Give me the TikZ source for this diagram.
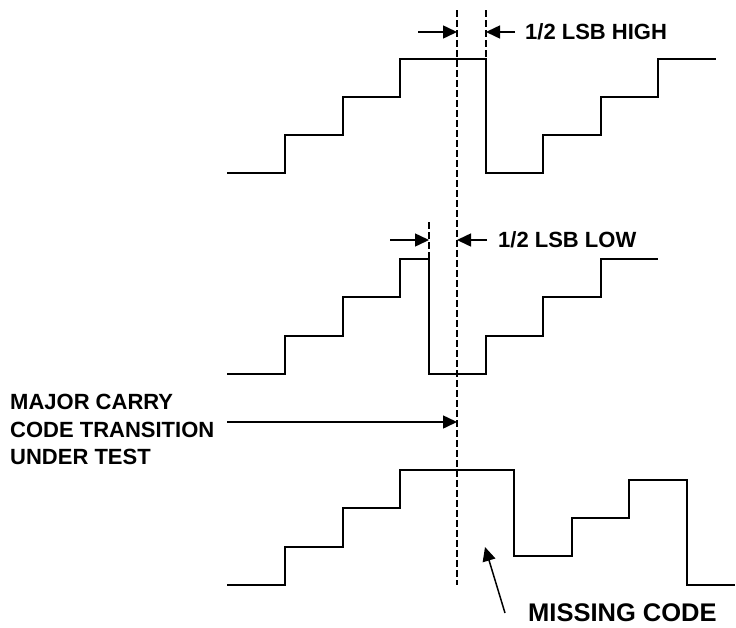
\documentclass[tikz,border=0pt]{standalone}
\usepackage{fontspec}
\setmainfont{Liberation Sans}
\usetikzlibrary{arrows.meta}

\tikzset{
  wave/.style={line width=1.5pt},
  guide/.style={line width=2.4pt, dash pattern=on 6.5pt off 3.5pt},
  pointer/.style={line width=1.5pt, -{Triangle[length=14pt,width=13pt]}},
  lbl/.style={font=\bfseries\fontsize{22}{27.5}\selectfont, inner sep=0pt},
  biglbl/.style={font=\bfseries\fontsize{25.5}{29}\selectfont, inner sep=0pt},
}

\begin{document}
\begin{tikzpicture}[x=1pt,y=-1pt]
  \useasboundingbox (0,0) rectangle (736,627);

  % staircases
  \draw[wave] (227,173) -| (285,135) -| (343,97) -| (400,59) -| (486,173)
    -| (543,135) -| (601,97) -| (658,59) -- (716,59);
  \draw[wave] (227,374) -| (285,336) -| (343,297) -| (400,259) -| (429,374)
    -| (486,336) -| (543,297) -| (601,259) -- (658,259);
  \draw[wave] (227,585) -| (285,547) -| (343,508) -| (400,470) -| (514,556)
    -| (572,518) -| (629,480) -| (687,585) -- (735,585);

  % transition lines
  \coordinate (mainTop) at (457,10);
  \coordinate (mainBot) at (457,585);
  \coordinate (highTop) at (486,10);
  \coordinate (highBot) at (486,59);
  \coordinate (lowTop) at (429,222);
  \coordinate (lowBot) at (429,259);
  \draw[guide] (mainTop) -- (mainBot);
  \draw[guide] (highTop) -- (highBot);
  \draw[guide] (lowTop) -- (lowBot);

  % labels
  \node[lbl, anchor=base west] (high) at (525,39) {1/2 LSB HIGH};
  \node[lbl, anchor=base west] (low) at (498,247.5) {1/2 LSB LOW};
  \node[lbl, anchor=west, align=left] (carry) at (10,429.6)
    {MAJOR CARRY\\CODE TRANSITION\\UNDER TEST};
  \node[biglbl, anchor=base west] (missing) at (528,621.5) {MISSING CODE};

  % pointers
  \coordinate (hiA) at (418,32);
  \coordinate (hiB) at (457,32);
  \coordinate (hiC) at (515,32);
  \coordinate (hiD) at (486,32);
  \draw[pointer] (hiA) -- (hiB);
  \draw[pointer] (hiC) -- (hiD);

  \coordinate (loA) at (390,240);
  \coordinate (loB) at (429,240);
  \coordinate (loC) at (487,240);
  \coordinate (loD) at (457,240);
  \draw[pointer] (loA) -- (loB);
  \draw[pointer] (loC) -- (loD);

  \coordinate (carryA) at (227,422);
  \coordinate (carryB) at (457,422);
  \draw[pointer] (carryA) -- (carryB);

  \coordinate (missA) at (505,613);
  \coordinate (missB) at (485,547);
  \draw[pointer] (missA) -- (missB);
\end{tikzpicture}
\end{document}
